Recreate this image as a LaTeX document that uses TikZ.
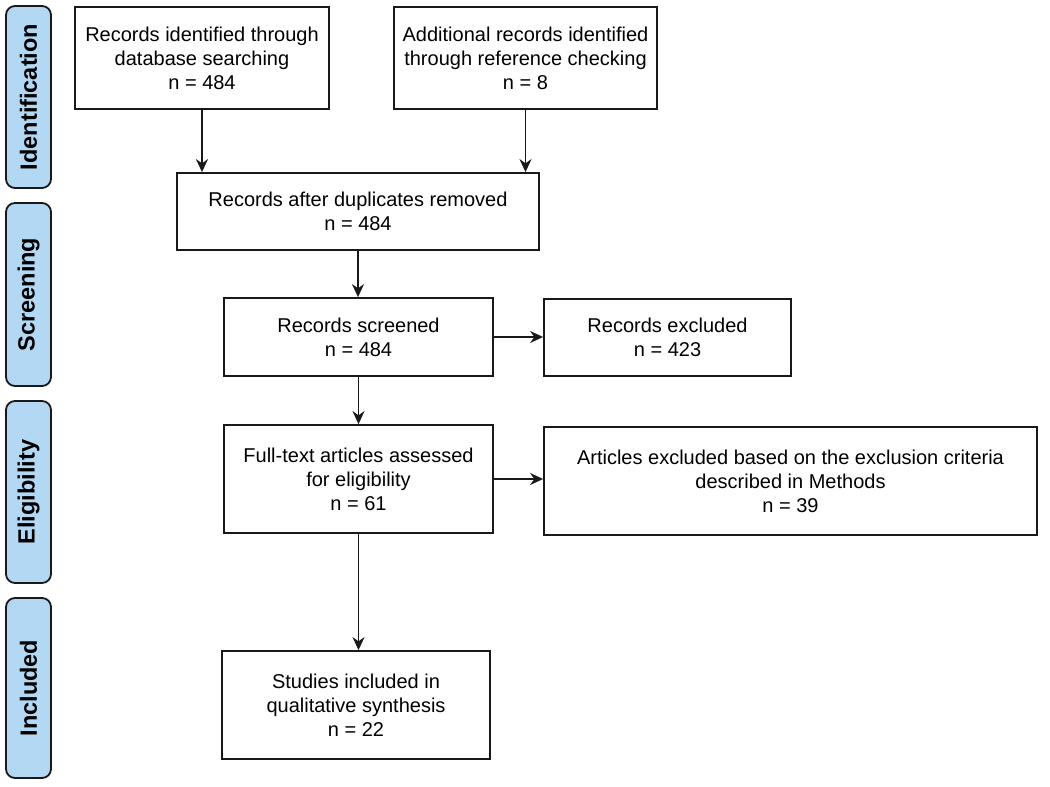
\documentclass[tikz,border=0pt]{standalone}
\usepackage{fontspec}
\setmainfont{Liberation Sans}
\usetikzlibrary{arrows.meta}
\definecolor{phase}{RGB}{178,216,243}
\begin{document}
\begin{tikzpicture}[x=1pt,y=-1pt,
  box/.style={draw=black!90, line width=1.8pt, align=center, inner sep=0pt,
    font=\fontsize{20}{24}\selectfont},
  phasebox/.style={draw=black!90, fill=phase, line width=1.8pt, rounded corners=9pt,
    rotate=90, minimum height=45pt, inner sep=0pt,
    font=\fontsize{23.5}{26}\selectfont\bfseries},
  arr/.style={line width=1.8pt, draw=black!90, -{Stealth[length=13pt,width=12pt]}}]
\useasboundingbox (0,0) rectangle (1050,787);
% phase labels
\node[phasebox, minimum width=182pt] (p1) at (28.5,97) {Identification};
\node[phasebox, minimum width=183pt] (p2) at (28.5,294.5) {Screening};
\node[phasebox, minimum width=182pt] (p3) at (28.5,492) {Eligibility};
\node[phasebox, minimum width=180pt] (p4) at (28.5,688) {Included};
% boxes
\node[box, minimum width=254pt, minimum height=102pt] (A) at (202,58)
  {Records identified through\\database searching\\n = 484};
\node[box, minimum width=263pt, minimum height=102pt] (B) at (525.5,58)
  {Additional records identified\\through reference checking\\n = 8};
\node[box, minimum width=362pt, minimum height=77pt] (C) at (358,211.5)
  {Records after duplicates removed\\n = 484};
\node[box, minimum width=269pt, minimum height=78pt] (D) at (358.5,337)
  {Records screened\\n = 484};
\node[box, minimum width=247pt, minimum height=77pt] (E) at (667.5,337.5)
  {Records excluded\\n = 423};
\node[box, minimum width=269pt, minimum height=108pt] (F) at (358.5,479)
  {Full-text articles assessed\\for eligibility\\n = 61};
\node[box, minimum width=493pt, minimum height=108pt] (G) at (790.5,481)
  {Articles excluded based on the exclusion criteria\\described in Methods\\n = 39};
\node[box, minimum width=268pt, minimum height=108pt] (H) at (356,705)
  {Studies included in\\qualitative synthesis\\n = 22};
% connectors
\draw[arr] (A.south) -- (A.south |- C.north);
\draw[arr] (B.south) -- (B.south |- C.north);
\draw[arr] (C.south) -- (C.south |- D.north);
\draw[arr] (D.east) -- (D.east -| E.west);
\draw[arr] (D.south) -- (D.south |- F.north);
\draw[arr] (F.east) -- (F.east -| G.west);
\draw[arr] (F.south) -- (F.south |- H.north);
\end{tikzpicture}
\end{document}
